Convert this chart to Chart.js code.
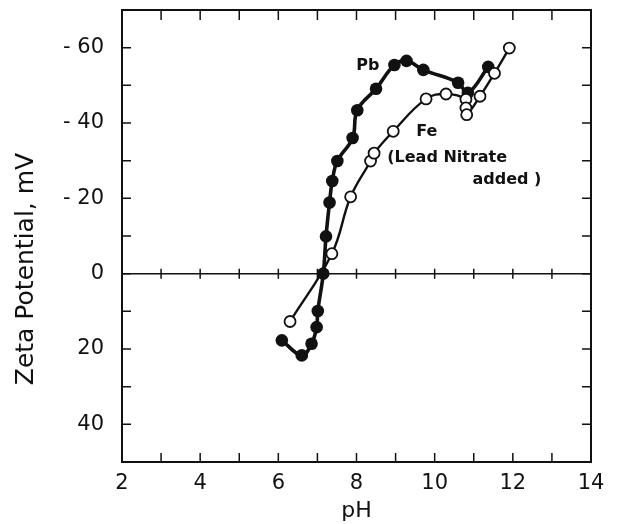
<!DOCTYPE html>
<html>
<head>
<meta charset="utf-8">
<script src="https://cdn.jsdelivr.net/npm/chart.js@4.4.1/dist/chart.umd.min.js"></script>
<style>
html, body { margin: 0; padding: 0; background: #fff; }
#wrap { width: 618px; height: 524px; }
</style>
</head>
<body>
<div id="wrap"><canvas id="zetaChart" width="618" height="524"></canvas></div>
<script>
// values: pH and zeta potential (mV)
const pbPH   = [6.09, 6.60, 6.85, 6.98, 7.01, 7.15, 7.22, 7.31, 7.38, 7.51, 7.90, 8.02, 8.50, 8.97, 9.28, 9.71, 10.60, 10.85, 11.37];
const pbZeta = [17.7, 21.7, 18.6, 14.2, 9.9, 0, -9.9, -18.9, -24.6, -29.9, -36.0, -43.4, -49.1, -55.4, -56.5, -54.1, -50.7, -48.0, -54.9];

const fePH   = [6.30, 7.37, 7.85, 8.36, 8.45, 8.94, 9.78, 10.29, 10.80, 10.80, 10.82, 11.16, 11.53, 11.91];
const feZeta = [12.7, -5.3, -20.4, -29.9, -32.0, -37.8, -46.4, -47.7, -46.3, -44.0, -42.2, -47.1, -53.2, -59.9];

const xLabelled = [2, 4, 6, 8, 10, 12, 14];
const yLabelled = [-60, -40, -20, 0, 20, 40];

const toPoints = (xs, ys) => xs.map((v, i) => ({ x: v, y: ys[i] }));

Chart.defaults.font.family = 'DejaVu Sans';
Chart.defaults.color = '#111';

// text written beside the curves
const notes = [
    { text: 'Pb', x: 8.29, y: -55.3 },
    { text: 'Fe', x: 9.80, y: -37.7 },
    { text: '(Lead Nitrate', x: 10.32, y: -30.7 },
    { text: 'added )', x: 11.85, y: -24.9 }
];

const framePlugin = {
    id: 'frame',
    beforeDatasetsDraw(chart) {
        const ctx = chart.ctx;
        const a = chart.chartArea;
        const x = chart.scales.x;
        const y = chart.scales.y;
        const y0 = y.getPixelForValue(0);
        ctx.save();
        ctx.strokeStyle = '#111';
        ctx.lineWidth = 1.5;
        ctx.beginPath();
        ctx.moveTo(a.left, y0);
        ctx.lineTo(a.right, y0);
        ctx.stroke();

        // inward tick marks on every side, and across the zero line
        ctx.beginPath();
        x.ticks.forEach(t => {
            const px = x.getPixelForValue(t.value);
            ctx.moveTo(px, a.top);
            ctx.lineTo(px, a.top + 10);
            ctx.moveTo(px, a.bottom);
            ctx.lineTo(px, a.bottom - 9);
            ctx.moveTo(px, y0 - 5);
            ctx.lineTo(px, y0 + 5);
        });
        y.ticks.forEach(t => {
            const py = y.getPixelForValue(t.value);
            ctx.moveTo(a.left, py);
            ctx.lineTo(a.left + 9, py);
            ctx.moveTo(a.right, py);
            ctx.lineTo(a.right - 9, py);
        });
        ctx.stroke();

        ctx.lineWidth = 2;
        ctx.strokeRect(a.left, a.top, a.width, a.height);

        // y axis title
        ctx.translate(26, (a.top + a.bottom) / 2 + 33);
        ctx.rotate(-Math.PI / 2);
        ctx.font = '25px DejaVu Sans';
        ctx.fillStyle = '#111';
        ctx.textAlign = 'center';
        ctx.textBaseline = 'middle';
        ctx.fillText('Zeta Potential, mV', 0, 0);
        ctx.restore();
    },
    afterDatasetsDraw(chart) {
        const ctx = chart.ctx;
        const x = chart.scales.x;
        const y = chart.scales.y;
        ctx.save();
        ctx.font = 'bold 16px DejaVu Sans';
        ctx.fillStyle = '#111';
        ctx.textAlign = 'center';
        ctx.textBaseline = 'middle';
        notes.forEach(n => {
            ctx.fillText(n.text, x.getPixelForValue(n.x), y.getPixelForValue(n.y));
        });
        ctx.restore();
    }
};

const chart = new Chart(document.getElementById('zetaChart').getContext('2d'), {
    type: 'scatter',
    data: {
        datasets: [{
            label: 'Fe (Lead Nitrate added)',
            data: toPoints(fePH, feZeta),
            showLine: true,
            borderColor: '#111',
            borderWidth: 2.4,
            tension: 0.4,
            pointRadius: 5.5,
            pointBorderWidth: 1.8,
            pointBackgroundColor: '#fff',
            pointBorderColor: '#111'
        }, {
            label: 'Pb',
            data: toPoints(pbPH, pbZeta),
            showLine: true,
            borderColor: '#111',
            borderWidth: 3.6,
            tension: 0.4,
            pointRadius: 6.3,
            pointBorderWidth: 0,
            pointBackgroundColor: '#111',
            pointBorderColor: '#111'
        }]
    },
    options: {
        responsive: false,
        animation: false,
        layout: { padding: { top: 10, right: 27, left: 0, bottom: 0 } },
        plugins: {
            legend: { display: false },
            tooltip: { enabled: false }
        },
        scales: {
            x: {
                type: 'linear',
                min: 2,
                max: 14,
                grid: { display: false },
                border: { display: false },
                ticks: {
                    stepSize: 1,
                    autoSkip: false,
                    maxRotation: 0,
                    padding: 1,
                    font: { size: 21 },
                    callback: function(value) {
                        return xLabelled.includes(value) ? String(value) : '';
                    }
                },
                title: {
                    display: true,
                    text: 'pH',
                    font: { size: 22 },
                    padding: { top: 0, bottom: 0 }
                },
                afterFit: function(scale) {
                    scale.height = 62;
                    scale.paddingLeft = 0;
                    scale.paddingRight = 0;
                }
            },
            y: {
                type: 'linear',
                min: -70,
                max: 50,
                reverse: true,
                grid: { display: false },
                border: { display: false },
                ticks: {
                    stepSize: 10,
                    autoSkip: false,
                    padding: 10,
                    font: { size: 21 },
                    callback: function(value) {
                        if (!yLabelled.includes(value)) return '';
                        return value < 0 ? '- ' + (-value) : String(value);
                    }
                },
                afterFit: function(scale) {
                    scale.width = 122;
                    scale.paddingTop = 0;
                    scale.paddingBottom = 0;
                }
            }
        }
    },
    plugins: [framePlugin]
});
</script>
</body>
</html>
